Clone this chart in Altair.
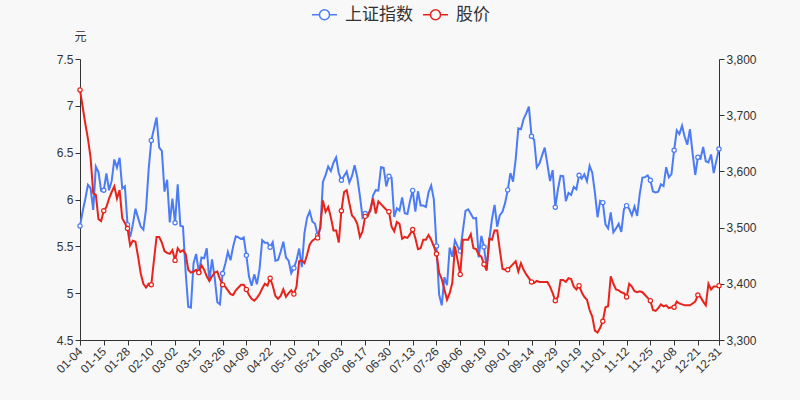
import altair as alt
import pandas as pd

# ---- trading days of 2021 (month -> day numbers) ----
jan_days = [4, 5, 6, 7, 8, 11, 12, 13, 14, 15, 18, 19, 20, 21, 22, 25, 26, 27, 28, 29]
feb_days = [1, 2, 3, 4, 5, 8, 9, 10, 18, 19, 22, 23, 24, 25, 26]
mar_days = [1, 2, 3, 4, 5, 8, 9, 10, 11, 12, 15, 16, 17, 18, 19, 22, 23, 24, 25, 26, 29, 30, 31]
apr_days = [1, 2, 6, 7, 8, 9, 12, 13, 14, 15, 16, 19, 20, 21, 22, 23, 26, 27, 28, 29, 30]
may_days = [6, 7, 10, 11, 12, 13, 14, 17, 18, 19, 20, 21, 24, 25, 26, 27, 28, 31]
jun_days = [1, 2, 3, 4, 7, 8, 9, 10, 11, 15, 16, 17, 18, 21, 22, 23, 24, 25, 28, 29, 30]
jul_days = [1, 2, 5, 6, 7, 8, 9, 12, 13, 14, 15, 16, 19, 20, 21, 22, 23, 26, 27, 28, 29, 30]
aug_days = [2, 3, 4, 5, 6, 9, 10, 11, 12, 13, 16, 17, 18, 19, 20, 23, 24, 25, 26, 27, 30, 31]
sep_days = [1, 2, 3, 6, 7, 8, 9, 10, 13, 14, 15, 16, 17, 22, 23, 24, 27, 28, 29, 30]
oct_days = [8, 11, 12, 13, 14, 15, 18, 19, 20, 21, 22, 25, 26, 27, 28, 29]
nov_days = [1, 2, 3, 4, 5, 8, 9, 10, 11, 12, 15, 16, 17, 18, 19, 22, 23, 24, 25, 26, 29, 30]
dec_days = [1, 2, 3, 6, 7, 8, 9, 10, 13, 14, 15, 16, 17, 20, 21, 22, 23, 24, 27, 28, 29, 30, 31]

# ---- 上证指数 (right axis) ----
sse_jan = [3502.96, 3528.68, 3550.88, 3576.20, 3570.11, 3531.50, 3608.34, 3598.65, 3565.90, 3566.38,
           3596.22, 3566.42, 3583.09, 3621.26, 3606.75, 3624.24, 3569.43, 3573.34, 3505.18, 3483.07]
sse_feb = [3505.28, 3533.68, 3517.31, 3501.86, 3496.33, 3532.44, 3603.49, 3655.09, 3675.36, 3696.17,
           3642.44, 3636.36, 3564.08, 3585.05, 3509.08]
sse_mar = [3551.40, 3508.59, 3576.90, 3503.49, 3501.99, 3421.41, 3359.29, 3357.74, 3436.83, 3453.08,
           3419.95, 3446.73, 3445.55, 3463.07, 3404.66, 3443.44, 3411.51, 3367.06, 3363.59, 3418.33,
           3435.30, 3456.68, 3441.91]
sse_apr = [3466.33, 3484.39, 3482.55, 3479.63, 3482.48, 3450.68, 3412.95, 3396.47, 3416.81, 3398.99,
           3426.62, 3477.55, 3472.94, 3472.93, 3465.11, 3474.17, 3441.17, 3442.61, 3457.07, 3474.90,
           3446.86]
sse_may = [3441.28, 3418.87, 3427.99, 3441.85, 3462.75, 3429.54, 3490.38, 3517.62, 3529.01, 3510.96,
           3506.94, 3486.56, 3497.28, 3581.34, 3593.36, 3608.85, 3600.78, 3615.48]
sse_jun = [3624.71, 3597.14, 3584.22, 3591.84, 3599.54, 3580.11, 3591.40, 3610.86, 3589.75, 3556.56,
           3518.33, 3525.10, 3525.10, 3529.18, 3557.41, 3566.65, 3566.22, 3607.56, 3606.37, 3573.18,
           3591.20]
sse_jul = [3588.78, 3518.76, 3534.32, 3530.26, 3553.72, 3525.50, 3524.09, 3547.84, 3566.22, 3528.50,
           3564.59, 3539.30, 3539.12, 3536.79, 3562.70, 3574.73, 3550.40, 3467.44, 3381.18, 3361.59,
           3411.72, 3397.36]
sse_aug = [3464.29, 3447.99, 3477.22, 3466.56, 3458.23, 3494.63, 3529.93, 3532.62, 3524.74, 3516.30,
           3517.34, 3446.98, 3485.29, 3465.55, 3427.33, 3477.13, 3514.47, 3540.38, 3501.66, 3522.16,
           3528.15, 3543.94]
sse_sep = [3567.10, 3597.04, 3581.73, 3621.86, 3676.59, 3675.19, 3693.13, 3703.11, 3715.37, 3662.60,
           3656.22, 3607.09, 3613.97, 3628.49, 3642.22, 3613.07, 3582.83, 3602.22, 3536.29, 3568.17]
sse_oct = [3592.17, 3591.71, 3546.94, 3561.76, 3558.28, 3572.37, 3568.14, 3593.15, 3587.00, 3594.78,
           3582.60, 3609.86, 3597.64, 3562.31, 3518.42, 3547.34]
sse_nov = [3544.48, 3505.63, 3498.54, 3526.87, 3491.57, 3498.63, 3507.00, 3492.46, 3532.79, 3539.10,
           3533.30, 3521.79, 3537.37, 3520.71, 3560.37, 3589.09, 3589.75, 3592.70, 3584.18, 3564.09,
           3562.70, 3563.89]
sse_dec = [3576.89, 3573.84, 3607.43, 3589.31, 3595.09, 3637.57, 3673.04, 3666.35, 3681.08, 3661.53,
           3647.63, 3675.02, 3632.36, 3593.60, 3625.13, 3622.62, 3643.34, 3618.05, 3615.97, 3630.11,
           3597.00, 3619.19, 3639.78]

# ---- 股价 (left axis, 元) ----
px_jan = [7.17, 6.99, 6.81, 6.65, 6.45, 6.07, 6.05, 5.79, 5.77, 5.88,
          5.92, 6.01, 6.08, 6.14, 6.01, 6.10, 5.80, 5.75, 5.69, 5.51]
px_feb = [5.56, 5.55, 5.39, 5.21, 5.10, 5.06, 5.10, 5.09, 5.35, 5.60,
          5.60, 5.54, 5.45, 5.43, 5.42]
px_mar = [5.46, 5.35, 5.48, 5.44, 5.46, 5.42, 5.25, 5.22, 5.23, 5.25,
          5.22, 5.30, 5.25, 5.18, 5.13, 5.18, 5.22, 5.23, 5.15, 5.09,
          5.07, 5.03, 4.99]
px_apr = [4.98, 5.03, 5.06, 5.09, 5.09, 5.04, 4.98, 4.94, 4.92, 4.95,
          4.99, 5.05, 5.10, 5.08, 5.16, 5.08, 4.97, 4.94, 4.97, 5.04,
          4.96]
px_may = [5.00, 5.03, 4.99, 5.07, 5.34, 5.35, 5.32, 5.41, 5.52, 5.56,
          5.58, 5.59, 5.71, 5.99, 5.87, 5.92, 5.81, 5.67]
px_jun = [5.67, 5.54, 5.88, 6.08, 6.10, 5.96, 5.83, 5.80, 5.74, 5.60,
          5.66, 5.82, 5.82, 5.90, 6.01, 5.85, 5.98, 5.95, 5.92, 5.89,
          5.87]
px_jul = [5.71, 5.66, 5.76, 5.74, 5.58, 5.60, 5.59, 5.63, 5.68, 5.59,
          5.47, 5.48, 5.57, 5.57, 5.62, 5.57, 5.50, 5.42, 5.22, 5.15,
          5.04, 4.93]
px_aug = [5.00, 5.11, 5.50, 5.35, 5.20, 5.57, 5.57, 5.57, 5.63, 5.48,
          5.47, 5.41, 5.39, 5.31, 5.24, 5.58, 5.57, 5.67, 5.67, 5.46,
          5.26, 5.25]
px_sep = [5.25, 5.28, 5.31, 5.34, 5.23, 5.32, 5.25, 5.20, 5.16, 5.12,
          5.11, 5.13, 5.12, 5.12, 5.12, 5.12, 5.07, 5.00, 4.92, 4.96]
px_oct = [5.14, 5.14, 5.12, 5.16, 5.15, 5.07, 5.04, 5.08, 5.01, 4.96,
          4.93, 4.82, 4.75, 4.60, 4.58, 4.63]
px_nov = [4.70, 4.85, 4.86, 5.18, 5.10, 5.04, 5.03, 5.01, 5.00, 4.96,
          5.10, 5.07, 5.02, 5.01, 5.02, 5.01, 4.98, 4.95, 4.92, 4.82,
          4.81, 4.84]
px_dec = [4.88, 4.86, 4.87, 4.84, 4.85, 4.85, 4.91, 4.89, 4.88, 4.87,
          4.87, 4.87, 4.89, 4.91, 4.98, 4.96, 4.91, 4.87, 5.10, 5.04,
          5.07, 5.07, 5.08]

series_names = ["上证指数", "股价"]
BLUE = "#4b7bf5"
RED = "#e8231b"

month_days = [jan_days, feb_days, mar_days, apr_days, may_days, jun_days,
              jul_days, aug_days, sep_days, oct_days, nov_days, dec_days]
dates = [f"{m:02d}-{d:02d}" for m, days in enumerate(month_days, start=1) for d in days]
sse = sum([sse_jan, sse_feb, sse_mar, sse_apr, sse_may, sse_jun,
           sse_jul, sse_aug, sse_sep, sse_oct, sse_nov, sse_dec], [])
price = sum([px_jan, px_feb, px_mar, px_apr, px_may, px_jun,
             px_jul, px_aug, px_sep, px_oct, px_nov, px_dec], [])

tick_dates = dates[::9] + [dates[-1]]

df = pd.DataFrame({"date": dates, "sse": sse, "price": price})
df["marker"] = df["date"].isin(tick_dates)

FONT = "Liberation Sans"
CJK = "Noto Sans CJK SC"

x_enc = alt.X(
    "date:O",
    sort=None,
    scale=alt.Scale(type="point", domain=dates, padding=0),
    axis=alt.Axis(
        values=tick_dates, labelAngle=-45, labelAlign="right", labelBaseline="middle",
        title=None, labelFontSize=12, labelColor="#333", labelFont=FONT,
        domainColor="#333", tickColor="#333", tickSize=5, labelPadding=4,
        labelOverlap=False, grid=False,
    ),
)

color_scale = alt.Scale(domain=series_names, range=[BLUE, RED])
legend_symbol = ("M-1,0L-0.4,0M0.4,0L1,0M0.4,0A0.4,0.4,0,1,1,-0.4,0"
                 "A0.4,0.4,0,1,1,0.4,0Z")
legend = alt.Legend(
    orient="none", legendX=231, legendY=-58, direction="horizontal", title=None,
    symbolType=legend_symbol, symbolSize=625, symbolStrokeWidth=1.5,
    symbolFillColor="white", labelFontSize=17, labelFont=CJK, labelColor="#333",
    labelOffset=7, columnPadding=7,
)

y_sse = alt.Y(
    "sse:Q",
    scale=alt.Scale(domain=[3300, 3800], zero=False, nice=False),
    axis=alt.Axis(
        orient="right", values=[3300, 3400, 3500, 3600, 3700, 3800], format=",.0f",
        title=None, labelFontSize=12, labelColor="#333", labelFont=FONT,
        domainColor="#333", tickColor="#333", tickSize=5, grid=False, labelFlush=False,
    ),
)
y_px = alt.Y(
    "price:Q",
    scale=alt.Scale(domain=[4.5, 7.5], zero=False, nice=False),
    axis=alt.Axis(
        orient="left", values=[4.5, 5, 5.5, 6, 6.5, 7, 7.5], format=".1~f",
        title="元", titleAngle=0, titleX=0, titleY=-19, titleAlign="center",
        titleBaseline="alphabetic", titleFont=CJK, titleFontSize=12,
        titleFontWeight="normal", titleColor="#333",
        labelFontSize=12, labelColor="#333", labelFont=FONT,
        domainColor="#333", tickColor="#333", tickSize=5, grid=False, labelFlush=False,
    ),
)

base_sse = alt.Chart(df).transform_calculate(series="'上证指数'")
base_px = alt.Chart(df).transform_calculate(series="'股价'")

sse_line = base_sse.mark_line(strokeWidth=2).encode(
    x=x_enc, y=y_sse, color=alt.Color("series:N", scale=color_scale, legend=legend)
)
sse_pts = base_sse.transform_filter("datum.marker").mark_point(
    shape="circle", filled=True, fill="white", size=18, strokeWidth=1.2, opacity=1
).encode(x=x_enc, y=y_sse, stroke=alt.Stroke("series:N", scale=color_scale, legend=None))

px_line = base_px.mark_line(strokeWidth=2).encode(
    x=x_enc, y=y_px, color=alt.Color("series:N", scale=color_scale, legend=legend)
)
px_pts = base_px.transform_filter("datum.marker").mark_point(
    shape="circle", filled=True, fill="white", size=18, strokeWidth=1.2, opacity=1
).encode(x=x_enc, y=y_px, stroke=alt.Stroke("series:N", scale=color_scale, legend=None))

chart = (
    alt.layer(alt.layer(sse_line, sse_pts), alt.layer(px_line, px_pts))
    .resolve_scale(y="independent")
    .properties(
        width=639, height=281,
        autosize=alt.AutoSizeParams(type="none"),
        padding={"left": 80, "top": 59, "right": 81, "bottom": 60},
        background="#f8f8f8",
    )
    .configure_view(stroke=None)
)

chart.save("out.html", embed_options={"renderer": "svg", "actions": False})
